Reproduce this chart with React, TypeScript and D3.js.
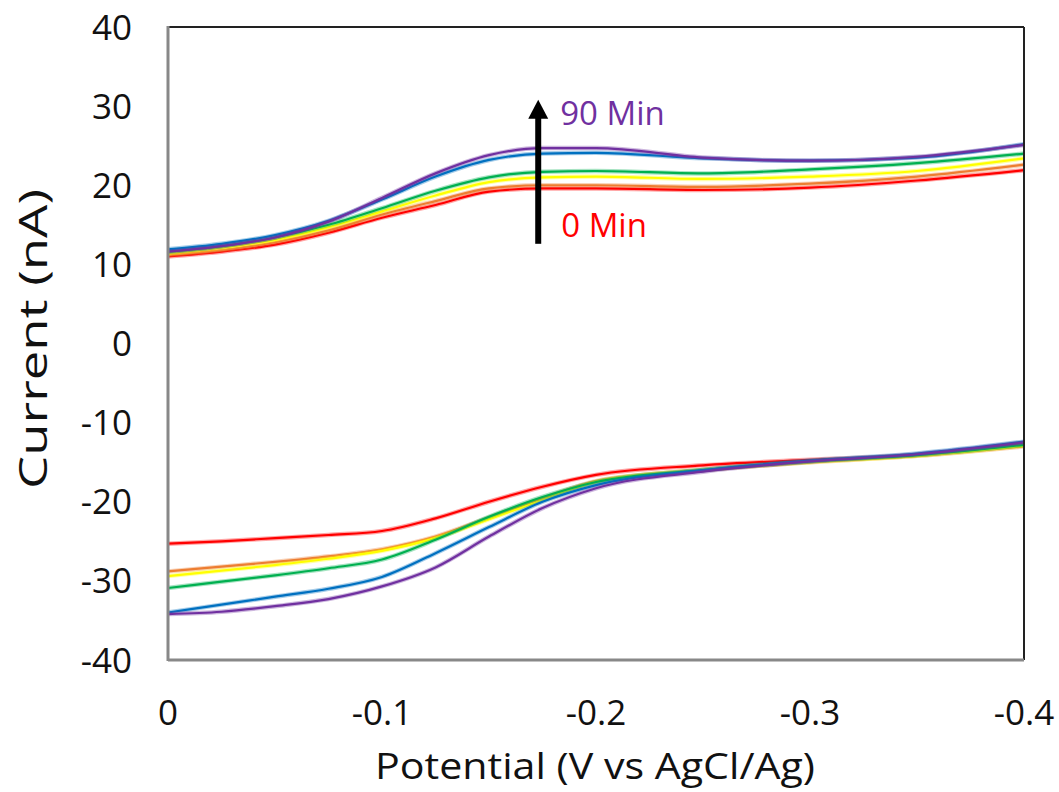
import React, { useEffect, useRef } from 'react';
import * as d3 from 'd3';

// potential grid (V vs AgCl/Ag)
const potentials = [0, -0.025, -0.05, -0.075, -0.1, -0.125, -0.15, -0.175, -0.2, -0.25, -0.3, -0.35, -0.4];

// upper branch current (nA), one row per time point
const upper0 = [11.0, 11.6, 12.5, 14.0, 15.9, 17.5, 19.2, 19.6, 19.6, 19.4, 19.7, 20.6, 21.9];
const upper1 = [11.2, 11.8, 12.8, 14.3, 16.3, 18.0, 19.6, 20.0, 20.0, 19.8, 20.2, 21.1, 22.6];
const upper2 = [11.4, 12.1, 13.1, 14.7, 16.7, 18.7, 20.4, 21.0, 21.1, 20.8, 21.1, 21.8, 23.4];
const upper3 = [11.6, 12.3, 13.4, 15.0, 17.1, 19.3, 21.0, 21.7, 21.8, 21.5, 22.0, 22.8, 24.0];
const upper4 = [11.9, 12.6, 13.7, 15.5, 18.2, 21.1, 23.2, 24.0, 24.1, 23.4, 23.1, 23.5, 25.2];
const upper5 = [11.6, 12.3, 13.4, 15.4, 18.4, 21.5, 23.8, 24.7, 24.7, 23.5, 23.1, 23.6, 25.1];

// lower branch current (nA)
const lower0 = [-25.3, -25.0, -24.6, -24.2, -23.7, -22.1, -20.0, -18.1, -16.6, -15.4, -14.7, -14.1, -12.6];
const lower1 = [-28.8, -28.2, -27.6, -26.9, -26.0, -24.4, -22.0, -19.6, -17.4, -16.0, -15.0, -14.2, -13.0];
const lower2 = [-29.4, -28.7, -28.0, -27.2, -26.2, -24.6, -22.2, -19.8, -17.5, -16.0, -15.0, -14.2, -12.9];
const lower3 = [-30.9, -30.1, -29.3, -28.4, -27.3, -24.8, -21.9, -19.4, -17.5, -16.0, -14.9, -14.1, -12.8];
const lower4 = [-34.0, -33.0, -32.0, -31.0, -29.5, -26.5, -23.2, -20.0, -17.9, -16.0, -14.8, -13.9, -12.4];
const lower5 = [-34.2, -33.9, -33.2, -32.3, -30.7, -28.3, -24.4, -20.8, -18.3, -16.2, -14.9, -14.0, -12.5];

const colors = ['#ff0000', '#ed7d31', '#ffff00', '#00b050', '#0070c0', '#7030a0'];
const uppers = [upper0, upper1, upper2, upper3, upper4, upper5];
const lowers = [lower0, lower1, lower2, lower3, lower4, lower5];

const xTicks = [0, -0.1, -0.2, -0.3, -0.4];
const yTicks = [40, 30, 20, 10, 0, -10, -20, -30, -40];

const FONT = '"Open Sans", "DejaVu Sans", sans-serif';

const App = () => {
  const svgRef = useRef<SVGSVGElement | null>(null);

  useEffect(() => {
    document.body.style.margin = '0';
    const svg = d3.select(svgRef.current);
    svg.selectAll('*').remove();

    const left = 168, right = 1024, top = 27, bottom = 660;
    const x = d3.scaleLinear().domain([0, -0.4]).range([left, right]);
    const y = d3.scaleLinear().domain([-40, 40]).range([bottom, top]);

    const line = d3.line<number>()
      .x((_, i) => x(potentials[i]))
      .y(d => y(d))
      .curve(d3.curveMonotoneX);

    // curves, drawn red first so purple sits on top
    const g = svg.append('g');
    const drawSet = (sets: number[][]) => {
      sets.forEach((vals, i) => {
        g.append('path')
          .attr('d', line(vals))
          .attr('fill', 'none')
          .attr('stroke', colors[i])
          .attr('stroke-opacity', 0.35)
          .attr('stroke-width', 4.5);
        g.append('path')
          .attr('d', line(vals))
          .attr('fill', 'none')
          .attr('stroke', colors[i])
          .attr('stroke-width', 2.2);
      });
    };
    drawSet(uppers);
    drawSet(lowers);

    // frame
    svg.append('line').attr('x1', left).attr('x2', right).attr('y1', top).attr('y2', top)
      .attr('stroke', '#222').attr('stroke-width', 2);
    svg.append('line').attr('x1', right).attr('x2', right).attr('y1', top).attr('y2', bottom)
      .attr('stroke', '#222').attr('stroke-width', 2);
    svg.append('line').attr('x1', left).attr('x2', left).attr('y1', top - 1).attr('y2', bottom + 1)
      .attr('stroke', '#888').attr('stroke-width', 3);
    svg.append('line').attr('x1', left).attr('x2', right).attr('y1', bottom).attr('y2', bottom)
      .attr('stroke', '#888').attr('stroke-width', 3);

    // y tick labels
    svg.append('g').selectAll('text').data(yTicks).enter().append('text')
      .attr('x', 132)
      .attr('y', d => y(d))
      .attr('dy', '0.36em')
      .attr('text-anchor', 'end')
      .attr('font-family', FONT)
      .attr('font-size', 35)
      .attr('fill', '#111')
      .text(d => String(d));

    // x tick labels
    svg.append('g').selectAll('text').data(xTicks).enter().append('text')
      .attr('x', d => x(d))
      .attr('y', 712)
      .attr('dy', '0.36em')
      .attr('text-anchor', 'middle')
      .attr('font-family', FONT)
      .attr('font-size', 35)
      .attr('fill', '#111')
      .text(d => (d === 0 ? '0' : String(d)));

    // axis titles
    svg.append('text')
      .attr('x', 595)
      .attr('y', 779)
      .attr('text-anchor', 'middle')
      .attr('font-family', FONT)
      .attr('font-size', 37)
      .attr('textLength', 440)
      .attr('lengthAdjust', 'spacingAndGlyphs')
      .attr('fill', '#111')
      .text('Potential (V vs AgCl/Ag)');

    svg.append('text')
      .attr('transform', `translate(33,339) rotate(-90)`)
      .attr('dy', '0.36em')
      .attr('text-anchor', 'middle')
      .attr('font-family', FONT)
      .attr('font-size', 39)
      .attr('textLength', 300)
      .attr('lengthAdjust', 'spacingAndGlyphs')
      .attr('fill', '#111')
      .text('Current (nA)');

    // arrow annotation
    const ax = x(-0.173);
    svg.append('line')
      .attr('x1', ax).attr('x2', ax)
      .attr('y1', y(12.6)).attr('y2', y(28.5))
      .attr('stroke', '#000').attr('stroke-width', 6);
    svg.append('path')
      .attr('d', `M${ax},${y(30.8)} L${ax - 10},${y(28.4)} L${ax + 10},${y(28.4)} Z`)
      .attr('fill', '#000');

    svg.append('text')
      .attr('x', ax + 22)
      .attr('y', y(27.6))
      .attr('font-family', FONT)
      .attr('font-size', 33)
      .attr('fill', '#7030a0')
      .text('90 Min');

    svg.append('text')
      .attr('x', ax + 23)
      .attr('y', y(13.5))
      .attr('font-family', FONT)
      .attr('font-size', 33)
      .attr('fill', '#ff0000')
      .text('0 Min');
  }, []);

  return (
    <div style={{ width: 1059, height: 792, background: '#fff' }}>
      <svg ref={svgRef} width={1059} height={792} style={{ display: 'block' }} />
    </div>
  );
};

export default App;
